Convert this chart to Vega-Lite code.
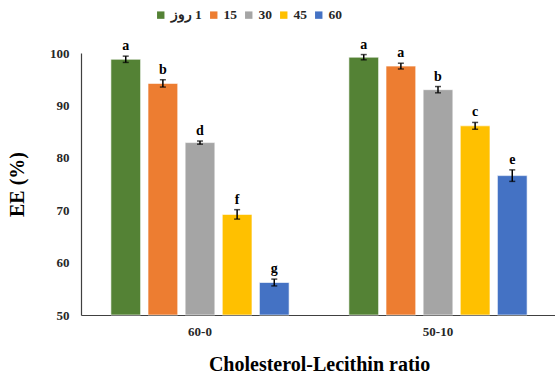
{
  "$schema": "https://vega.github.io/schema/vega-lite/v6.json",
  "autosize": "none",
  "width": 476,
  "height": 262,
  "padding": {"left": 81, "top": 53, "right": 0, "bottom": 61},
  "background": "white",
  "config": {
    "font": "Liberation Serif",
    "view": {"stroke": null},
    "axis": {"labelFont": "Liberation Serif", "titleFont": "Liberation Serif", "labelFontWeight": "bold", "titleFontWeight": "bold", "labelColor": "#262626", "titleColor": "#000000", "grid": false, "ticks": false, "domainColor": "#404040", "domainWidth": 1.2}
  },
  "data": {
    "values": [
      {"ratio": "60-0", "day": "1", "ee": 98.8, "err": 0.6, "grp": "a"},
      {"ratio": "60-0", "day": "15", "ee": 94.2, "err": 0.7, "grp": "b"},
      {"ratio": "60-0", "day": "30", "ee": 82.9, "err": 0.3, "grp": "d"},
      {"ratio": "60-0", "day": "45", "ee": 69.2, "err": 0.9, "grp": "f"},
      {"ratio": "60-0", "day": "60", "ee": 56.2, "err": 0.65, "grp": "g"},
      {"ratio": "50-10", "day": "1", "ee": 99.2, "err": 0.5, "grp": "a"},
      {"ratio": "50-10", "day": "15", "ee": 97.5, "err": 0.55, "grp": "a"},
      {"ratio": "50-10", "day": "30", "ee": 93.0, "err": 0.6, "grp": "b"},
      {"ratio": "50-10", "day": "45", "ee": 86.1, "err": 0.65, "grp": "c"},
      {"ratio": "50-10", "day": "60", "ee": 76.6, "err": 1.1, "grp": "e"}
    ]
  },
  "encoding": {
    "x": {
      "field": "ratio", "type": "nominal", "sort": ["60-0", "50-10"],
      "scale": {"paddingInner": 0.22, "paddingOuter": 0.11},
      "axis": {"labelAngle": 0, "labelFontSize": 13, "labelPadding": 10, "title": "Cholesterol-Lecithin ratio", "titleFontSize": 20, "titlePadding": 16}
    },
    "xOffset": {"field": "day", "type": "nominal", "sort": ["1", "15", "30", "45", "60"], "scale": {"paddingInner": 0.2, "paddingOuter": 0.1}}
  },
  "layer": [
    {
      "mark": {"type": "bar", "stroke": "#ffffff", "strokeOpacity": 0.6, "strokeWidth": 1},
      "encoding": {
        "y": {
          "field": "ee", "type": "quantitative", "title": "EE (%)",
          "scale": {"domain": [50, 100], "nice": false, "zero": false},
          "axis": {"values": [50, 60, 70, 80, 90, 100], "labelFontSize": 13, "labelPadding": 12, "title": "EE (%)", "titleFontSize": 20, "titlePadding": 22}
        },
        "y2": {"datum": 50},
        "color": {
          "field": "day", "type": "nominal", "sort": ["1", "15", "30", "45", "60"],
          "scale": {"domain": ["1", "15", "30", "45", "60"], "range": ["#548235", "#ED7D31", "#A5A5A5", "#FFC000", "#4472C4"]},
          "legend": {
            "title": null, "orient": "none", "direction": "horizontal", "legendX": 73, "legendY": -45,
            "symbolType": "square", "symbolSize": 55, "symbolStrokeWidth": 0,
            "labelFont": "Liberation Serif", "labelFontWeight": "bold", "labelFontSize": 13.5, "labelColor": "#262626",
            "labelOffset": 3, "columnPadding": 5,
            "labelExpr": "datum.label == '1' ? 'روز\u200e 1' : datum.label"
          }
        }
      }
    },
    {
      "mark": {"type": "errorbar", "ticks": {"size": 6, "thickness": 1.5, "color": "#000000"}, "rule": {"strokeWidth": 1.5}, "color": "#000000"},
      "encoding": {
        "y": {"field": "ee", "type": "quantitative", "title": "EE (%)"},
        "yError": {"field": "err"}
      }
    },
    {
      "transform": [{"calculate": "datum.ee + datum.err", "as": "hi"}],
      "mark": {"type": "text", "baseline": "bottom", "dy": -3, "fontSize": 14, "fontWeight": "bold", "font": "Liberation Serif", "color": "#000000"},
      "encoding": {
        "y": {"field": "hi", "type": "quantitative", "title": "EE (%)"},
        "text": {"field": "grp"}
      }
    }
  ]
}
